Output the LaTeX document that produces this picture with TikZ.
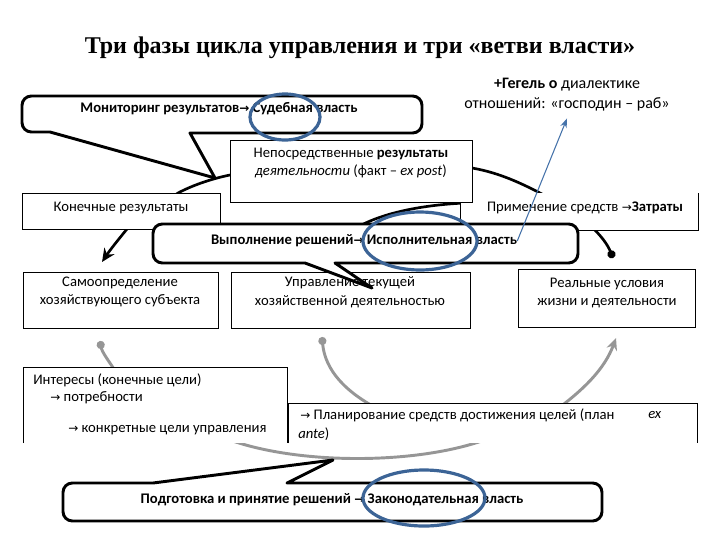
\documentclass[tikz,border=0pt]{standalone}
\usepackage{fontspec}
\setmainfont{Carlito}
\newfontfamily\titlefont{Liberation Serif}
\newfontfamily\arrowfont{DejaVu Sans}
\usetikzlibrary{arrows.meta}

\definecolor{ovalblue}{RGB}{60,100,150}
\definecolor{linkblue}{RGB}{70,115,170}
\definecolor{cyclegray}{RGB}{150,150,150}

\newcommand{\toarr}{{\arrowfont\fontsize{9}{9}\selectfont →}}

\tikzset{
  box/.style={draw, fill=white, line width=0.6pt, inner sep=0pt},
  txt/.style={inner sep=0pt, font=\fontsize{11}{14}\selectfont, align=center},
  bub/.style={draw, fill=white, line width=2.2pt, line join=round},
  bubtxt/.style={inner sep=0pt, font=\fontsize{11}{14}\selectfont\bfseries},
  cyc/.style={line width=2pt},
  gcyc/.style={cyclegray, line width=2.2pt},
  oval/.style={ovalblue, line width=2.4pt},
}

\begin{document}
\begin{tikzpicture}[x=0.75pt,y=-0.75pt]
	\useasboundingbox (0,0) rectangle (720,540);
	%title
	\node[font=\titlefont\bfseries\fontsize{18}{20}\selectfont] (title) at (360,48) {Три фазы цикла управления и три «ветви власти»};
	
	%gray cycle
	\coordinate (sdot) at (100,341);
	\coordinate (cdot) at (322,337);
	\draw[gcyc,{Circle[length=6pt]}-] (sdot) .. controls (102,352) and (108,360) .. (116,372);
	\draw[gcyc,{Circle[length=6pt]}-] (cdot) .. controls (325,370) and (345,392) .. (380,410);
	\draw[gcyc] (230,440) .. controls (300,465) and (420,465) .. (490,438);
	\draw[gcyc,-{Stealth[length=9pt,width=8pt]}] (545,418) .. controls (585,390) and (605,368) .. (616,338);
	
	%black cycle
	\coordinate (rdot) at (613,258);
	\draw[cyc,{Circle[length=6pt]}-{Stealth[length=10pt,width=9pt]}] (rdot) .. controls (605,238) and (585,215) .. (540,193) .. controls (515,180) and (495,172) .. (472,168) -- (230,175) .. controls (215,178) and (195,184) .. (178,193) -- (127,229) .. controls (118,240) and (110,250) .. (102,262);
	\draw[cyc] (350,232) .. controls (375,214) and (420,205) .. (465,203);
	
	%upper boxes
	\fill[white] (460,193) rectangle (698,230);
	\draw[line width=0.6pt] (460,193) |- (698,230) -- (698,193);
	\node[box, minimum width=148.5pt, minimum height=27pt] (fin) at (121,211) {};
	\node[box, minimum width=181.5pt, minimum height=46.5pt] (dir) at (351,171) {};
	
	%middle boxes
	\node[box, minimum width=146.25pt, minimum height=42pt] (self) at (120.5,300) {};
	\node[box, minimum width=179.25pt, minimum height=42pt] (cur) at (350.5,300) {};
	\node[box, minimum width=132.75pt, minimum height=43.5pt] (real) at (606.5,298) {};
	
	%lower boxes, open at the bottom
	\fill[white] (23,367) rectangle (287,443);
	\draw[line width=0.6pt] (23,443) |- (287,367) -- (287,443);
	\fill[white] (288,403) rectangle (697,443);
	\draw[line width=0.6pt] (288,443) |- (697,403) -- (697,443);
	
	%callouts
	\draw[bub] (50,132) [rounded corners=7pt] -- (22,132) -- (22,96) -- (422,96) -- (422,133) -- (300,133) [sharp corners] -- (190,133) -- (215,178) -- cycle;
	\draw[bub] (335,263) [rounded corners=7pt] -- (578,263) -- (578,224) -- (153,224) -- (153,263) -- (250,263) [sharp corners] -- (305,263) -- (372,288) -- cycle;
	\draw[bub] (153,483) [rounded corners=7pt] -- (63,483) -- (63,521) -- (602,521) -- (602,483) -- (400,483) [sharp corners] -- (287,483) -- (333,460) -- cycle;
	
	%callout texts
	\node[bubtxt] (montxt) at (219,109) {Мониторинг результатов\toarr{} Судебная власть};
	\node[bubtxt] (exetxt) at (364,241) {Выполнение решений\toarr{} Исполнительная власть};
	\node[bubtxt] (dectxt) at (332,500) {Подготовка и принятие решений \toarr{} Законодательная власть};
	
	%box texts
	\node[txt] (fintxt) at (121,208) {Конечные результаты};
	\node[txt] (dirtxt) at (351,163) {Непосредственные \textbf{результаты}\\\textit{деятельности} (факт -- \textit{ex post})};
	\node[txt] (usetxt) at (585,208) {Применение средств \toarr\textbf{Затраты}};
	\node[txt] (selftxt) at (120,292) {Самоопределение\\хозяйствующего субъекта};
	\node[txt] (curtxt) at (350,292) {Управление текущей\\хозяйственной деятельностью};
	\node[txt] (realtxt) at (607,293) {Реальные условия\\жизни и деятельности};
	\node[txt, anchor=west] (int1) at (33,380) {Интересы (конечные цели)};
	\node[txt, anchor=west] (int2) at (50,398) {\toarr{} потребности};
	\node[txt, anchor=west] (int3) at (68,430) {\toarr{} конкретные цели управления};
	\node[txt, anchor=west] (plan1) at (300,415) {\toarr{} Планирование средств достижения целей (план};
	\node[txt, anchor=west] (plan2) at (648,415) {\textit{ex}};
	\node[txt, anchor=west] (plan3) at (298,434) {\textit{ante})};
	
	%Hegel note
	\node[txt, font=\fontsize{12}{15}\selectfont] (hegel) at (567,95) {\textbf{+Гегель о} диалектике\\отношений: «господин -- раб»};
	\draw[linkblue, line width=0.8pt, -{Stealth[length=7pt,width=5pt]}] (exetxt.east) -- ([yshift=-5pt]hegel.south);
	
	%ovals
	\draw[oval] (285,117) ellipse [x radius=35, y radius=23];
	\draw[oval] (420,241) ellipse [x radius=57, y radius=29];
	\draw[oval] (424,498) ellipse [x radius=61, y radius=28];
\end{tikzpicture}
\end{document}
